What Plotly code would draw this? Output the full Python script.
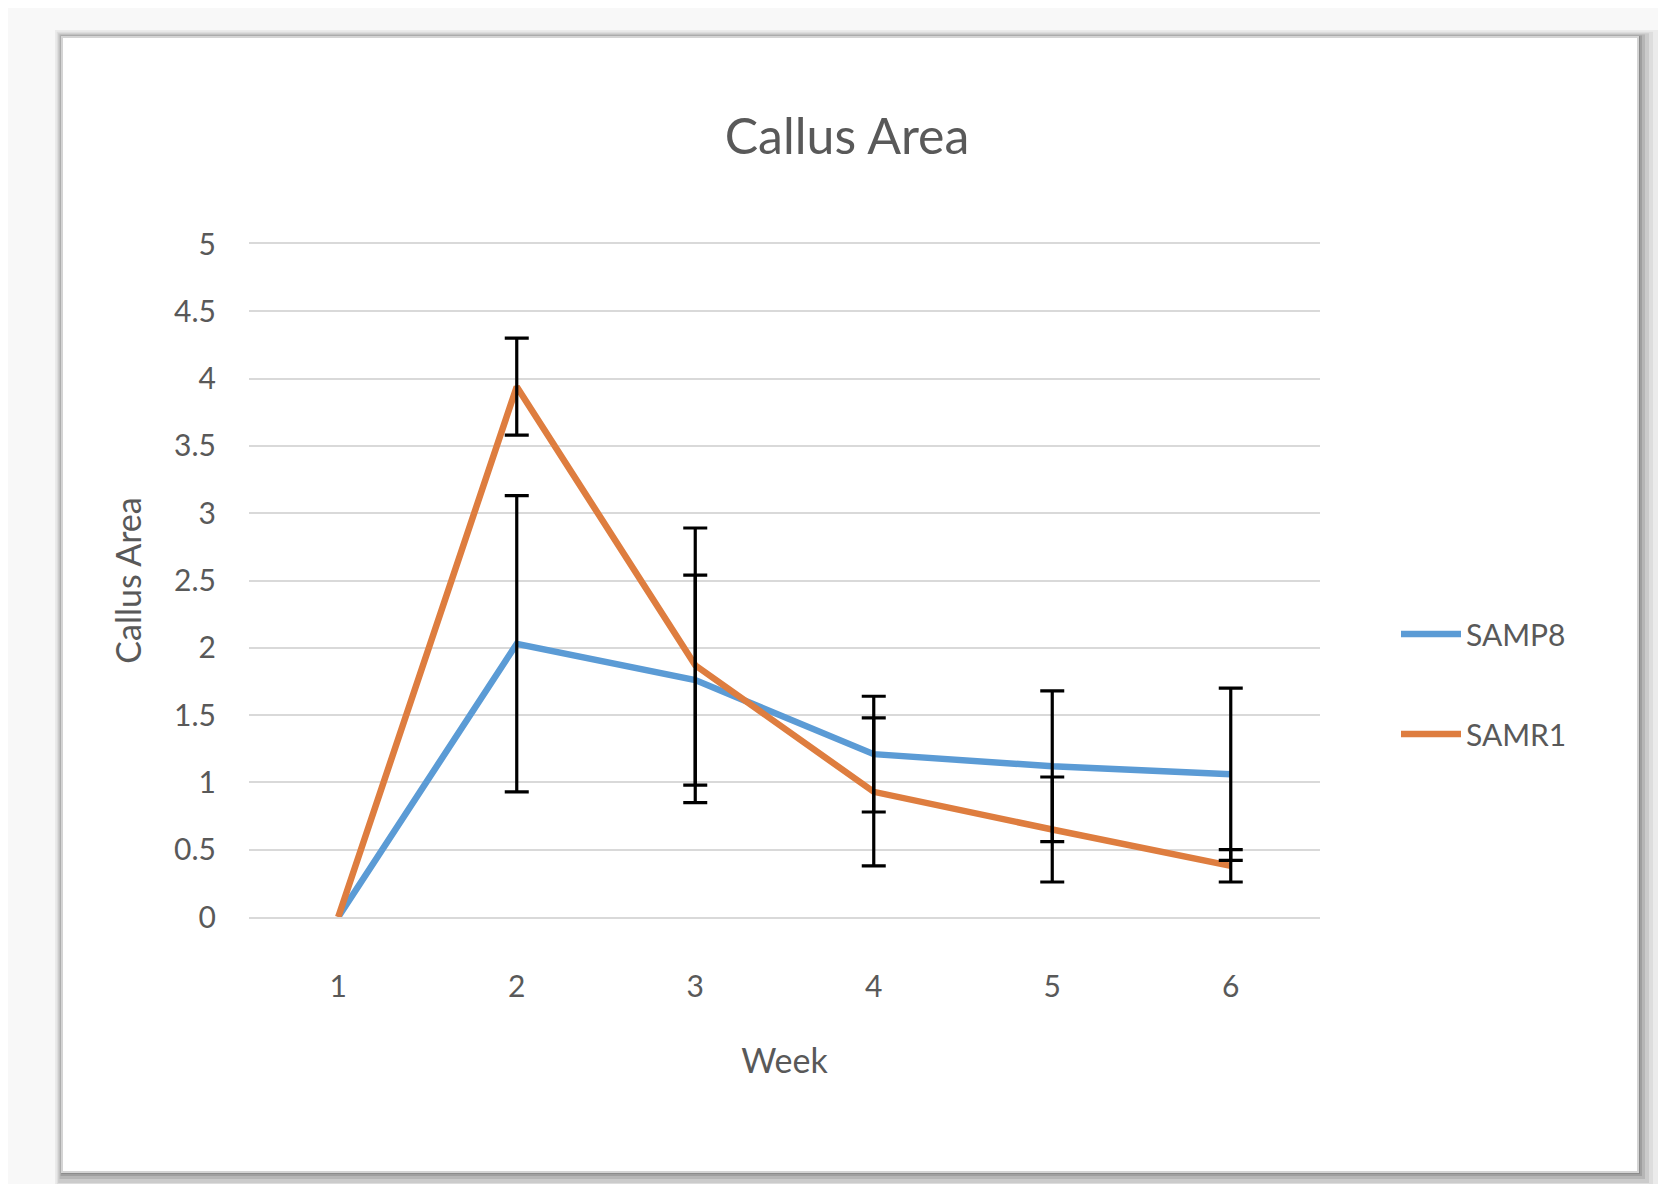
import plotly.graph_objects as go

# ---- data ----
weeks = [1, 2, 3, 4, 5, 6]
week_labels = ["1", "2", "3", "4", "5", "6"]
samp8 = [0, 2.03, 1.76, 1.21, 1.12, 1.06]
samp8_err = [None, 1.10, 0.78, 0.43, 0.56, 0.64]
samr1 = [0, 3.94, 1.87, 0.93, 0.65, 0.38]
samr1_err = [None, 0.36, 1.02, 0.55, 0.39, 0.12]
y_ticks = [0, 0.5, 1, 1.5, 2, 2.5, 3, 3.5, 4, 4.5, 5]
y_tick_labels = ["0", "0.5", "1", "1.5", "2", "2.5", "3", "3.5", "4", "4.5", "5"]

W, H = 1666, 1184
PL, PR, PT, PB = 241, 1312, 236, 909  # plot area in pixels


def px(x):
    return (x - PL) / (PR - PL)


def py(y):
    return (PB - y) / (PB - PT)


FONT = "Lato, Carlito, 'Open Sans', sans-serif"
GREY = "#595959"

fig = go.Figure()
series = [("SAMP8", samp8, samp8_err, "#5B9BD5", "a"),
          ("SAMR1", samr1, samr1_err, "#DE7D3F", "b")]
for name, vals, errs, color, grp in series:
    fig.add_trace(go.Scatter(
        x=weeks, y=vals, name=name, mode="lines",
        line=dict(color=color, width=6.5), legendgroup=grp,
    ))
# error bars only where a value exists (week 1 has none)
for name, vals, errs, color, grp in series:
    idx = [i for i, e in enumerate(errs) if e is not None]
    fig.add_trace(go.Scatter(
        x=[weeks[i] for i in idx], y=[vals[i] for i in idx],
        mode="markers", marker=dict(size=1, color="rgba(0,0,0,0)"),
        error_y=dict(type="data", array=[errs[i] for i in idx], visible=True,
                     color="black", thickness=3.2, width=12),
        showlegend=False, hoverinfo="skip", legendgroup=grp, name=name,
    ))

shapes = []
# soft shadow around the card
for k, op in [(20, 0.05), (15, 0.06), (11, 0.08), (7, 0.1), (4, 0.12), (2, 0.12)]:
    shapes.append(dict(
        type="rect", xref="paper", yref="paper", layer="below",
        x0=px(54 - k * 0.35), x1=px(1630 + k),
        y0=py(1164 + k), y1=py(29 - k * 0.35),
        fillcolor="black", opacity=op, line=dict(width=0),
    ))
# the white card
shapes.append(dict(
    type="rect", xref="paper", yref="paper", layer="below",
    x0=px(54), x1=px(1630), y0=py(1164), y1=py(29),
    fillcolor="white", line=dict(color="#d4d4d4", width=2),
))

fig.update_layout(
    width=W, height=H,
    margin=dict(l=PL, r=W - PR, t=PT, b=H - PB, autoexpand=False),
    paper_bgcolor="#f8f8f8",
    plot_bgcolor="rgba(0,0,0,0)",
    font=dict(family=FONT, color=GREY),
    title=dict(text="Callus Area", x=px(839), xref="paper", xanchor="center",
               y=1 - 128 / H, yref="container", yanchor="middle",
               font=dict(size=50, color=GREY, family=FONT)),
    shapes=shapes,
    showlegend=True,
    legend=dict(x=px(1388), xanchor="left", y=py(600), yanchor="top",
                font=dict(size=30, color=GREY, family=FONT),
                traceorder="grouped", tracegroupgap=58,
                bgcolor="rgba(0,0,0,0)", itemwidth=60),
    xaxis=dict(
        tickmode="array", tickvals=weeks, ticktext=week_labels,
        range=[0.5, 6.5], showgrid=False, zeroline=False,
        showline=True, mirror=True, linecolor="#d9d9d9", linewidth=2,
        ticks="", tickfont=dict(size=30, color=GREY),
        ticklabelstandoff=42,
        title=dict(text="Week", font=dict(size=34, color=GREY), standoff=47),
        automargin=False,
    ),
    yaxis=dict(
        tickmode="array", tickvals=y_ticks, ticktext=y_tick_labels,
        range=[0, 5], showgrid=True, gridcolor="#d9d9d9", gridwidth=2,
        zeroline=False, showline=False, ticks="",
        tickfont=dict(size=30, color=GREY),
        ticklabelstandoff=32,
        title=dict(text="Callus Area", font=dict(size=34, color=GREY), standoff=22),
        automargin=False,
    ),
)

fig.write_html("out.html")
